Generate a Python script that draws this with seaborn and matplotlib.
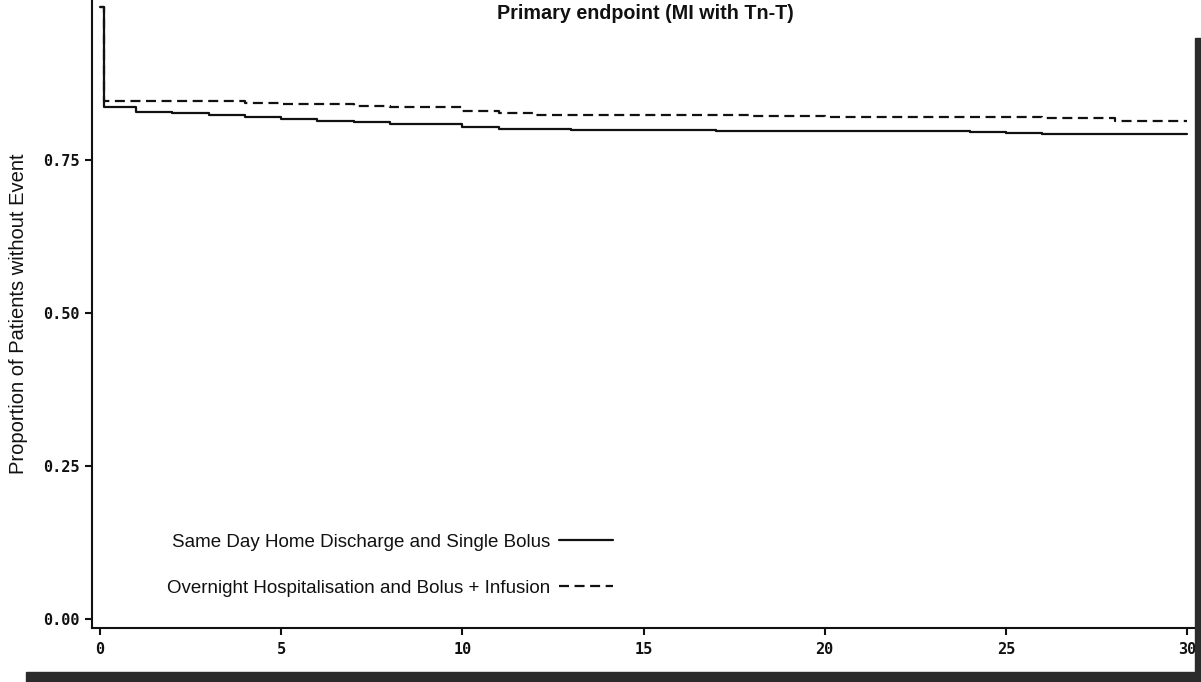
import pandas as pd
import seaborn as sns
import matplotlib.pyplot as plt
from matplotlib.patches import Rectangle

groups = ['Same Day Home Discharge and Single Bolus',
          'Overnight Hospitalisation and Bolus + Infusion']

# step points (day, proportion without event)
solid_days = [0, 0.1, 1, 2, 3, 4, 5, 6, 7, 8, 10, 11, 13, 17, 24, 25, 26, 30]
solid_vals = [1.0, 0.836, 0.829, 0.826, 0.8235, 0.820, 0.8165, 0.814, 0.812,
              0.808, 0.804, 0.801, 0.799, 0.797, 0.796, 0.794, 0.793, 0.793]

dashed_days = [0, 0.1, 4, 5, 7, 8, 10, 11, 12, 18, 20, 26, 28, 30]
dashed_vals = [1.0, 0.846, 0.843, 0.841, 0.839, 0.837, 0.830, 0.827, 0.8235,
               0.822, 0.820, 0.818, 0.814, 0.814]

x_ticks = [0, 5, 10, 15, 20, 25, 30]
y_ticks = [0.00, 0.25, 0.50, 0.75]
y_tick_labels = ['0.00', '0.25', '0.50', '0.75']

df = pd.concat([
    pd.DataFrame({'day': solid_days, 'surv': solid_vals, 'group': groups[0]}),
    pd.DataFrame({'day': dashed_days, 'surv': dashed_vals, 'group': groups[1]}),
])

sns.set_style('ticks')
plt.rcParams['font.family'] = ['Liberation Sans', 'DejaVu Sans']

fig = plt.figure(figsize=(12.01, 6.82), dpi=100)
ax = fig.add_axes([92 / 1201, 1 - 628 / 682, (1195 - 92) / 1201, 628 / 682])

sns.lineplot(data=df, x='day', y='surv', style='group', style_order=groups,
             dashes={groups[0]: '', groups[1]: (4.5, 2.5)},
             color='#111111', linewidth=1.6, drawstyle='steps-post',
             estimator=None, legend=False, ax=ax)

ax.set_xlim(-0.22, 30.22)
ax.set_ylim(-0.0147, 1.0114)
ax.set_xticks(x_ticks)
ax.set_yticks(y_ticks)
ax.set_yticklabels(y_tick_labels)
ax.set_xlabel('')
ax.set_ylabel('Proportion of Patients without Event', fontsize=14.5, color='#111111')
ax.yaxis.set_label_coords(-0.058, 0.5)
for lab in ax.get_xticklabels() + ax.get_yticklabels():
    lab.set_family('DejaVu Sans Mono')
    lab.set_fontweight('bold')
    lab.set_fontsize(11)
    lab.set_color('#111111')
ax.tick_params(axis='both', direction='out', length=5, width=1.5, color='#111111')
ax.tick_params(axis='x', pad=5)
ax.tick_params(axis='y', pad=4)
for side in ['top', 'right']:
    ax.spines[side].set_visible(False)
for side in ['left', 'bottom']:
    ax.spines[side].set_linewidth(1.5)
    ax.spines[side].set_color('#111111')

lines = ax.get_lines()[:2]
ax.legend(lines, groups, loc='center', bbox_to_anchor=(0.270, 0.100),
          frameon=False, markerfirst=False, fontsize=13.5, handlelength=2.85,
          handletextpad=0.5, labelspacing=1.55, borderpad=0,
          labelcolor='#111111')

fig.text(0.537, 0.994, 'Primary endpoint (MI with Tn-T)', ha='center', va='top',
         fontsize=14.2, fontweight='bold', color='#111111')

# dark scan borders on the right and bottom edges
fig.patches.append(Rectangle((1195 / 1201, 0), 6 / 1201, 1 - 38 / 682,
                             transform=fig.transFigure, color='#2b2b2b', zorder=5))
fig.patches.append(Rectangle((26 / 1201, 0), 1 - 26 / 1201, 10 / 682,
                             transform=fig.transFigure, color='#2b2b2b', zorder=5))

fig.savefig('out.png', dpi=100)
